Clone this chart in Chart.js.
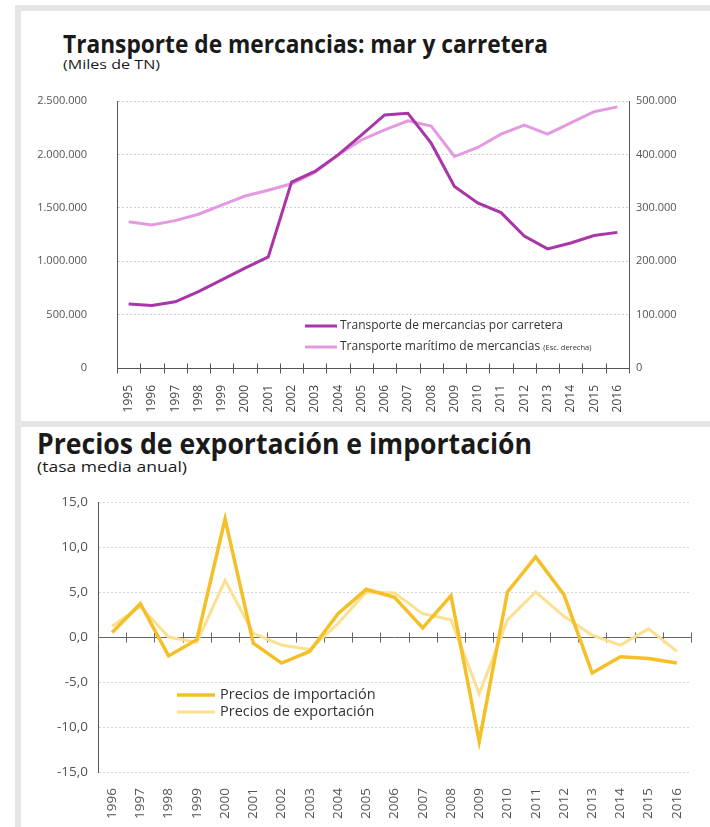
<!DOCTYPE html>
<html>
<head>
<meta charset="utf-8">
<script src="https://cdn.jsdelivr.net/npm/chart.js@4.4.0/dist/chart.umd.min.js"></script>
<style>
  body { margin: 0; background: #fff; width: 710px; height: 827px; position: relative; overflow: hidden; font-family: "Open Sans", sans-serif; }
  .frame { position: absolute; background: #e6e6e6; }
  .txt { position: absolute; white-space: nowrap; line-height: 1; transform-origin: 0 0; color: #1a1a1a; }
  .title { font-weight: 700; }
  .box { position: absolute; }
</style>
</head>
<body>
<div class="frame" style="left:15px;top:5px;width:695px;height:6px"></div>
<div class="frame" style="left:15px;top:5px;width:6px;height:822px"></div>
<div class="frame" style="left:15px;top:421px;width:695px;height:6px"></div>

<div class="txt title" id="t1" style="left:63px;top:31px;font-size:25px">Transporte de mercancias: mar y carretera</div>
<div class="txt" id="s1" style="left:63px;top:58px;font-size:13px">(Miles de TN)</div>
<div class="txt title" id="t2" style="left:37px;top:429px;font-size:28px">Precios de exportación e importación</div>
<div class="txt" id="s2" style="left:37px;top:459px;font-size:15px">(tasa media anual)</div>

<div class="box" style="left:21px;top:11px"><canvas id="freight" width="689" height="410"></canvas></div>
<div class="box" style="left:21px;top:427px"><canvas id="prices" width="689" height="400"></canvas></div>

<script>
// Transporte de mercancias (miles de toneladas)
const freightYears = ['1995', '1996', '1997', '1998', '1999', '2000', '2001', '2002', '2003', '2004', '2005',
  '2006', '2007', '2008', '2009', '2010', '2011', '2012', '2013', '2014', '2015', '2016'];
const roadTons = [600000, 585000, 620000, 715000, 825000, 935000, 1040000, 1740000, 1840000, 1995000, 2180000,
  2370000, 2385000, 2105000, 1700000, 1545000, 1455000, 1235000, 1115000, 1170000, 1240000, 1270000];
const seaTons = [274000, 268000, 276000, 288000, 305000, 322000, 333000, 345000, 366000, 399000, 427000,
  446000, 463000, 453000, 396000, 413000, 438000, 455000, 438000, 459000, 480000, 489000];

// Precios de exportación e importación (tasa media anual)
const priceYears = ['1996', '1997', '1998', '1999', '2000', '2001', '2002', '2003', '2004', '2005', '2006',
  '2007', '2008', '2009', '2010', '2011', '2012', '2013', '2014', '2015', '2016'];
const importPrices = [0.5, 3.7, -2.1, -0.3, 13.1, -0.7, -2.9, -1.6, 2.6, 5.3, 4.4,
  1.0, 4.6, -11.6, 5.0, 8.9, 4.7, -4.0, -2.2, -2.4, -2.9];
const exportPrices = [1.2, 3.4, 0.0, -0.6, 6.3, 0.4, -0.9, -1.4, 1.5, 5.0, 4.9,
  2.6, 1.9, -6.3, 1.9, 5.0, 2.3, 0.2, -0.9, 0.9, -1.6];

// scale the titles horizontally to the width they have in the source
function fit(id, w) {
  const el = document.getElementById(id);
  el.style.transform = 'scaleX(' + (w / el.getBoundingClientRect().width) + ')';
}
fit('t1', 485); fit('s1', 97); fit('t2', 495); fit('s2', 150);

const dots = v => String(v).replace(/\B(?=(\d{3})+(?!\d))/g, '.');
const comma = v => v.toFixed(1).replace('.', ',');

Chart.defaults.font.family = "'Open Sans', sans-serif";
Chart.defaults.color = '#555';
Chart.defaults.animation = false;
Chart.defaults.responsive = false;

// small cross ticks on the value axis line, between the categories
const crossTicks = {
  id: 'crossTicks',
  beforeDatasetsDraw(chart, args, opts) {
    const { ctx, chartArea, scales } = chart;
    const xs = scales.x;
    const y0 = Math.round(scales.y.getPixelForValue(opts.at)) + 0.5;
    const n = xs.ticks.length;
    const half = (chartArea.right - chartArea.left) / n / 2;
    ctx.save();
    ctx.strokeStyle = opts.color;
    ctx.lineWidth = 1;
    ctx.beginPath();
    if (opts.line) {
      ctx.moveTo(chartArea.left, y0);
      ctx.lineTo(chartArea.right, y0);
    }
    for (let i = 0; i <= n; i++) {
      const px = Math.round(i < n ? xs.getPixelForTick(i) - half : xs.getPixelForTick(n - 1) + half) + 0.5;
      ctx.moveTo(px, y0 - opts.size);
      ctx.lineTo(px, y0 + opts.size);
    }
    ctx.stroke();
    ctx.restore();
  }
};

// legend drawn inside the plot, line sample + text
const lineLegend = {
  id: 'lineLegend',
  afterDatasetsDraw(chart, args, opts) {
    const ctx = chart.ctx;
    ctx.save();
    chart.data.datasets.forEach((ds, i) => {
      const y = opts.y + i * opts.rowGap;
      ctx.strokeStyle = ds.borderColor;
      ctx.lineWidth = ds.borderWidth;
      ctx.beginPath();
      ctx.moveTo(opts.x, y);
      ctx.lineTo(opts.x + opts.len, y);
      ctx.stroke();
      ctx.fillStyle = '#333';
      ctx.textBaseline = 'middle';
      ctx.font = opts.font;
      const tx = opts.x + opts.len + opts.pad;
      ctx.fillText(ds.label, tx, y);
      if (ds.note) {
        const w = ctx.measureText(ds.label + ' ').width;
        ctx.font = opts.noteFont;
        ctx.fillText(ds.note, tx + w, y + 1);
      }
    });
    ctx.restore();
  }
};

new Chart(document.getElementById('freight'), {
  type: 'line',
  data: {
    labels: freightYears,
    datasets: [{
      label: 'Transporte de mercancias por carretera',
      data: roadTons,
      yAxisID: 'y',
      borderColor: '#a836a8',
      borderWidth: 3,
      pointRadius: 0,
      tension: 0
    }, {
      label: 'Transporte marítimo de mercancias',
      note: '(Esc. derecha)',
      data: seaTons,
      yAxisID: 'y2',
      borderColor: '#e49ae0',
      borderWidth: 3,
      pointRadius: 0,
      tension: 0
    }]
  },
  plugins: [crossTicks, lineLegend],
  options: {
    layout: { padding: { top: 90, left: 0, right: 0, bottom: 0 } },
    plugins: {
      legend: { display: false },
      tooltip: { enabled: false },
      crossTicks: { at: 0, size: 5, color: '#555', line: false },
      lineLegend: { x: 284, y: 315, rowGap: 21, len: 32, pad: 3, font: '12px "Open Sans"', noteFont: '7.5px "Open Sans"' }
    },
    scales: {
      x: {
        offset: true,
        grid: { display: false },
        border: { display: true, color: '#555' },
        ticks: { minRotation: 90, maxRotation: 90, padding: 9, font: { size: 12 }, color: '#444' },
        afterFit: s => { s.height = 53; }
      },
      y: {
        position: 'left',
        min: 0, max: 2500000,
        ticks: { stepSize: 500000, padding: 30, font: { size: 11 }, callback: v => dots(v) },
        grid: { color: '#cfcfcf', drawTicks: false },
        border: { color: '#555', dash: [2, 2] },
        afterFit: s => { s.width = 96; }
      },
      y2: {
        position: 'right',
        min: 0, max: 500000,
        ticks: { stepSize: 100000, padding: 7, font: { size: 11 }, callback: v => dots(v) },
        grid: { drawOnChartArea: false, drawTicks: false },
        border: { color: '#555' },
        afterFit: s => { s.width = 81; }
      }
    }
  }
});

new Chart(document.getElementById('prices'), {
  type: 'line',
  data: {
    labels: priceYears,
    datasets: [{
      label: 'Precios de importación',
      data: importPrices,
      borderColor: '#f5bf28',
      borderWidth: 3.5,
      pointRadius: 0,
      tension: 0
    }, {
      label: 'Precios de exportación',
      data: exportPrices,
      borderColor: '#fbe090',
      borderWidth: 3,
      pointRadius: 0,
      tension: 0
    }]
  },
  plugins: [crossTicks, lineLegend],
  options: {
    layout: { padding: { top: 75, left: 0, right: 19, bottom: 0 } },
    plugins: {
      legend: { display: false },
      tooltip: { enabled: false },
      crossTicks: { at: 0, size: 5, color: '#666', line: true },
      lineLegend: { x: 156, y: 268, rowGap: 17, len: 38, pad: 5, font: '14.5px "Open Sans"' }
    },
    scales: {
      x: {
        offset: true,
        grid: { display: false },
        border: { display: false },
        ticks: { minRotation: 90, maxRotation: 90, padding: 8, font: { size: 13.5 }, color: '#555' },
        afterFit: s => { s.height = 55; }
      },
      y: {
        min: -15, max: 15,
        ticks: { stepSize: 5, padding: 10, font: { size: 13.5 }, callback: v => comma(v) },
        grid: { color: '#d6d6d6', drawTicks: false },
        border: { color: '#555', dash: [2, 2] },
        afterFit: s => { s.width = 77; }
      }
    }
  }
});
</script>
</body>
</html>
